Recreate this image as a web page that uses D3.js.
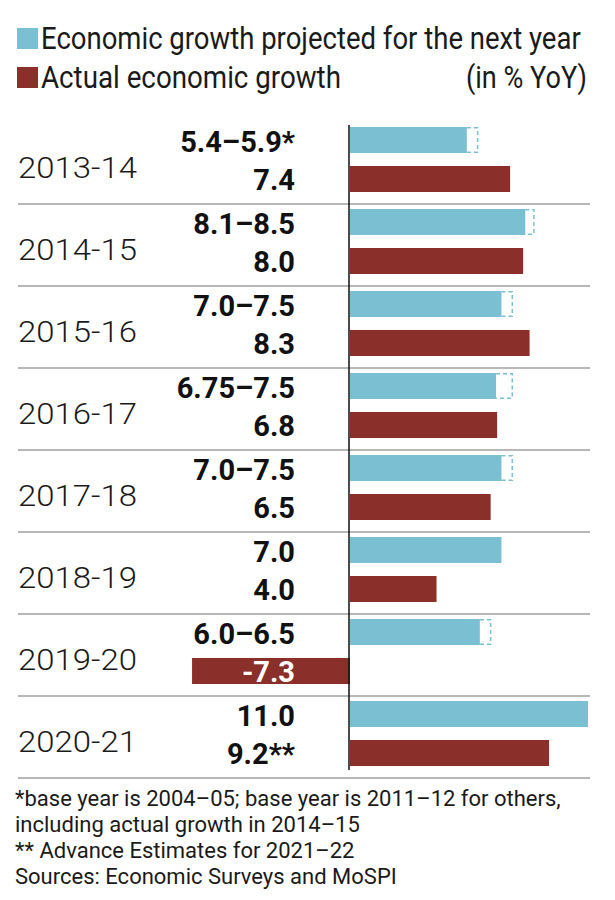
<!DOCTYPE html>
<html><head><meta charset="utf-8">
<script src="https://cdn.jsdelivr.net/npm/d3@7"></script>
<style>body{margin:0;background:#fff}svg{display:block}</style>
</head><body>
<script>
const years = ["2013-14","2014-15","2015-16","2016-17","2017-18","2018-19","2019-20","2020-21"];
const projLow = [5.4, 8.1, 7.0, 6.75, 7.0, 7.0, 6.0, 11.0];
const projHigh = [5.9, 8.5, 7.5, 7.5, 7.5, 7.0, 6.5, 11.0];
const actual = [7.4, 8.0, 8.3, 6.8, 6.5, 4.0, -7.3, 9.2];
const projLabels = ["5.4–5.9*","8.1–8.5","7.0–7.5","6.75–7.5","7.0–7.5","7.0","6.0–6.5","11.0"];
const actualLabels = ["7.4","8.0","8.3","6.8","6.5","4.0","-7.3","9.2**"];
const legendLabels = ["Economic growth projected for the next year","Actual economic growth"];
const unitLabel = "(in % YoY)";
const notes = ["*base year is 2004–05; base year is 2011–12 for others,","including actual growth in 2014–15","** Advance Estimates for 2021–22","Sources: Economic Surveys and MoSPI"];

const BLUE = "#7bbfd2", RED = "#8a2f2a";
const W = 615, H = 900;
const font = "'Roboto', sans-serif";
const svg = d3.select("body").append("svg").attr("width", W).attr("height", H);

// fit a text horizontally to a target width by scaling glyphs (condensed look)
function fitText(sel, x0, y0, target) {
  const w = sel.node().getComputedTextLength();
  const s = target / w;
  sel.attr("x", 0).attr("y", 0).attr("transform", `translate(${x0},${y0}) scale(${s},1)`);
}

// legend
const leg = svg.append("g");
const legLen = [540, 300];
[BLUE, RED].forEach((c, i) => {
  leg.append("rect").attr("x", 17).attr("y", 28 + i*39).attr("width", 21).attr("height", 21).attr("fill", c);
  const t = leg.append("text").text(legendLabels[i])
    .attr("font-family", font).attr("font-size", 32).attr("fill", "#1a1a1a");
  fitText(t, 41, 49 + i*39, legLen[i]);
});
const ut = leg.append("text").text(unitLabel)
  .attr("font-family", font).attr("font-size", 32).attr("fill", "#1a1a1a");
fitText(ut, 466, 88, 121);

const y = d3.scaleBand().domain(years).range([122, 778]);
const x = d3.scaleLinear().domain([0, 11]).range([350, 588]);

const g = svg.append("g");
// separators
g.selectAll("line.sep").data(years).join("line").attr("class","sep")
  .attr("x1", 18).attr("x2", 590)
  .attr("y1", d => y(d) + y.bandwidth()).attr("y2", d => y(d) + y.bandwidth())
  .attr("stroke", "#a0a0a0").attr("stroke-width", 1.3);

const bh = 26;
// projected solid
g.selectAll("rect.proj").data(years).join("rect")
  .attr("x", x(0)).attr("y", d => y(d) + 5)
  .attr("width", (d,i) => x(projLow[i]) - x(0)).attr("height", bh).attr("fill", BLUE);
// projected dashed range
g.selectAll("path.range").data(years).join("path")
  .attr("d", (d,i) => {
    if (projHigh[i] <= projLow[i]) return null;
    const x0 = x(projLow[i]), x1 = x(projHigh[i]), y0 = y(d) + 5.75, y1 = y(d) + 5 + bh - 0.75;
    return `M${x0},${y0}H${x1}V${y1}H${x0}`;
  })
  .attr("fill", "none").attr("stroke", BLUE).attr("stroke-width", 1.5).attr("stroke-dasharray", "4,3");
// actual
g.selectAll("rect.act").data(years).join("rect")
  .attr("x", (d,i) => x(Math.min(0, actual[i]))).attr("y", d => y(d) + 44)
  .attr("width", (d,i) => Math.abs(x(actual[i]) - x(0))).attr("height", bh).attr("fill", RED);

// axis line
g.append("line").attr("x1", x(0)-1).attr("x2", x(0)-1).attr("y1", 125).attr("y2", 770)
  .attr("stroke", "#111").attr("stroke-width", 1.5);

// year labels
g.selectAll("text.year").data(years).join("text")
  .text(d => d)
  .attr("font-family", font).attr("font-weight", 300).attr("font-size", 30).attr("fill", "#1a1a1a")
  .each(function(d) { fitText(d3.select(this), 18, y(d) + 56, 119); });
// value labels
g.selectAll("text.pl").data(years).join("text")
  .attr("x", 295).attr("y", d => y(d) + 30).attr("text-anchor", "end").text((d,i) => projLabels[i])
  .attr("font-family", font).attr("font-weight", "bold").attr("font-size", 29).attr("fill", "#111");
g.selectAll("text.al").data(years).join("text")
  .attr("x", 295).attr("y", d => y(d) + 68).attr("text-anchor", "end").text((d,i) => actualLabels[i])
  .attr("font-family", font).attr("font-weight", "bold").attr("font-size", 29)
  .attr("fill", (d,i) => actual[i] < 0 ? "#fff" : "#111");

// notes
svg.selectAll("text.note").data(notes).join("text")
  .attr("x", 15).attr("y", (d,i) => 806 + i*26).text(d => d)
  .attr("font-family", font).attr("font-size", 22).attr("fill", "#1a1a1a");
</script>
</body></html>
